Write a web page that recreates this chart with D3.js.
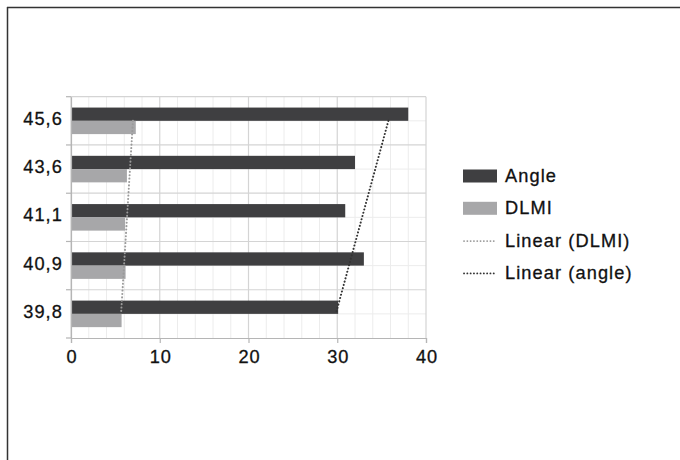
<!DOCTYPE html>
<html>
<head>
<meta charset="utf-8">
<script src="https://cdn.jsdelivr.net/npm/d3@7/dist/d3.min.js"></script>
<style>
  html, body { margin: 0; padding: 0; background: #fff; }
  svg { display: block; }
  text { font-family: "Liberation Sans", Arial, Helvetica, sans-serif; fill: #111; stroke: #111; stroke-width: 0.3px; letter-spacing: 1.1px; }
</style>
</head>
<body>
<svg id="chart" width="680" height="460"></svg>
<script>
// ---- data (top of chart to bottom) ----
const categories = ["45,6", "43,6", "41,1", "40,9", "39,8"];
const angleValues = [38.0, 32.0, 30.9, 33.0, 30.1];
const dlmiValues  = [7.3, 6.3, 6.1, 6.15, 5.7];
const seriesNames = ["Angle", "DLMI"];
const xTicks = [0, 10, 20, 30, 40];
const legendLabels = ["Angle", "DLMI", "Linear (DLMI)", "Linear (angle)"];

(function () {
const colors = { Angle: "#3f3f41", DLMI: "#a7a7a9", trendDLMI: "#9a9a9a", trendAngle: "#333333" };
const fs = 18.2;

const svg = d3.select("#chart");

// frame (only top and left edges visible)
svg.append("line").attr("x1", 7).attr("y1", 7.5).attr("x2", 680).attr("y2", 7.5)
  .attr("stroke", "#333").attr("stroke-width", 1.5);
svg.append("line").attr("x1", 7.5).attr("y1", 7).attr("x2", 7.5).attr("y2", 460)
  .attr("stroke", "#333").attr("stroke-width", 1.5);

const pLeft = 71, pRight = 426, pTop = 96.7, pBottom = 338;

const x = d3.scaleLinear().domain([0, 40]).range([pLeft, pRight]);
const y = d3.scaleBand().domain(categories).range([pTop, pBottom]).padding(0);
const groupFrac = 0.55;
const sub = d3.scaleBand().domain(seriesNames)
  .range([0, y.bandwidth() * groupFrac]);
const groupOffset = y.bandwidth() * (1 - groupFrac) / 2;

const g = svg.append("g");

// minor vertical grid every 2
d3.range(0, 41, 2).filter(v => v % 10 !== 0).forEach(v => {
  g.append("line").attr("x1", x(v)).attr("x2", x(v)).attr("y1", pTop).attr("y2", pBottom)
    .attr("stroke", "#ececec").attr("stroke-width", 1);
});
// minor horizontal grid at band centers
categories.forEach(c => {
  const yc = y(c) + y.bandwidth() / 2;
  g.append("line").attr("x1", pLeft).attr("x2", pRight).attr("y1", yc).attr("y2", yc)
    .attr("stroke", "#ececec").attr("stroke-width", 1);
});
// major vertical grid
xTicks.forEach(v => {
  g.append("line").attr("x1", x(v)).attr("x2", x(v)).attr("y1", pTop).attr("y2", pBottom)
    .attr("stroke", "#d4d4d4").attr("stroke-width", 1.2);
});
// major horizontal at band boundaries
categories.forEach(c => {
  g.append("line").attr("x1", pLeft).attr("x2", pRight).attr("y1", y(c)).attr("y2", y(c))
    .attr("stroke", "#d4d4d4").attr("stroke-width", 1.2);
});

// bars
const bars = g.append("g");
categories.forEach((c, i) => {
  const vals = { Angle: angleValues[i], DLMI: dlmiValues[i] };
  seriesNames.forEach(s => {
    bars.append("rect")
      .attr("x", x(0))
      .attr("y", y(c) + groupOffset + sub(s))
      .attr("width", x(vals[s]) - x(0))
      .attr("height", sub.bandwidth())
      .attr("fill", colors[s]);
  });
});

// axes
const xAxis = d3.axisBottom(x).tickValues(xTicks).tickSize(5).tickPadding(7).tickFormat(d3.format("d"));
const xg = svg.append("g").attr("transform", `translate(0,${pBottom})`).call(xAxis);
xg.select(".domain").attr("stroke", "#b5b5b5").attr("stroke-width", 1.2);
xg.selectAll(".tick line").attr("stroke", "#b5b5b5").attr("stroke-width", 1.2);
xg.selectAll("text").attr("font-size", fs).attr("fill", "#111").attr("dx", "0.6px");

const yAxis = d3.axisLeft(y).tickSize(0).tickPadding(8);
const yg = svg.append("g").attr("transform", `translate(${pLeft},0)`).call(yAxis);
yg.select(".domain").attr("stroke", "#b5b5b5").attr("stroke-width", 1.2);
yg.selectAll("text").attr("font-size", fs).attr("fill", "#111").attr("dy", "0.22em");
// boundary ticks on y axis
categories.map(c => y(c)).concat([pBottom]).forEach(yy => {
  svg.append("line").attr("x1", pLeft - 5).attr("x2", pLeft).attr("y1", yy).attr("y2", yy)
    .attr("stroke", "#b5b5b5").attr("stroke-width", 1.2);
});

// linear trend lines (least-squares over category order, bottom = 1)
function trend(values) {
  const n = values.length;
  const pts = values.map((v, i) => [n - i, v]);
  const mx = d3.mean(pts, p => p[0]), my = d3.mean(pts, p => p[1]);
  const slope = d3.sum(pts, p => (p[0] - mx) * (p[1] - my)) / d3.sum(pts, p => (p[0] - mx) ** 2);
  const icpt = my - slope * mx;
  return categories.map((c, i) => ({ c, v: icpt + slope * (n - i) }));
}
const line = d3.line().x(d => x(d.v)).y(d => y(d.c) + y.bandwidth() / 2);
[[dlmiValues, colors.trendDLMI], [angleValues, colors.trendAngle]].forEach(([vals, col]) => {
  const t = trend(vals);
  svg.append("path").attr("d", line([t[0], t[t.length - 1]]))
    .attr("fill", "none").attr("stroke", col).attr("stroke-width", 2)
    .attr("stroke-linecap", "round").attr("stroke-dasharray", "0.1,3.3");
});

// legend
const lg = svg.append("g");
const legX = 463, legY0 = 175.5, legStep = 32.3;
legendLabels.forEach((lab, i) => {
  const yy = legY0 + i * legStep;
  if (i < 2) {
    lg.append("rect").attr("x", legX).attr("y", yy - 6).attr("width", 34).attr("height", 13)
      .attr("fill", colors[seriesNames[i]]);
  } else {
    lg.append("line").attr("x1", legX + 1).attr("x2", legX + 33).attr("y1", yy + 1).attr("y2", yy + 1)
      .attr("stroke", i === 2 ? colors.trendDLMI : colors.trendAngle).attr("stroke-width", 1.8)
      .attr("stroke-linecap", "round").attr("stroke-dasharray", "0.1,3.2");
  }
  lg.append("text").attr("x", legX + 42).attr("y", yy).attr("dy", "0.36em")
    .attr("font-size", fs).text(lab);
});
})();
</script>
</body>
</html>
